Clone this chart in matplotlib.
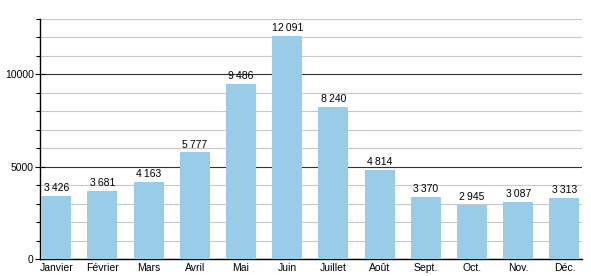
import matplotlib
matplotlib.use("Agg")
import matplotlib.pyplot as plt
from matplotlib.ticker import MultipleLocator

months = ["Janvier", "Février", "Mars", "Avril", "Mai", "Juin",
          "Juillet", "Août", "Sept.", "Oct.", "Nov.", "Déc."]
values = [3426, 3681, 4163, 5777, 9486, 12091, 8240, 4814, 3370, 2945, 3087, 3313]

plt.rcParams['font.family'] = ['Liberation Sans', 'DejaVu Sans']

fig = plt.figure(figsize=(5.91, 2.76), dpi=100)
ax = fig.add_axes([40 / 591, 17 / 276, 542 / 591, 240 / 276])

x = list(range(len(months)))
bars = ax.bar(x, values, width=0.65, color="#99cce6", zorder=3)

for xi, v in zip(x, values):
    label = f"{v:,}".replace(",", "\u2009")
    ax.annotate(label, (xi, v), xytext=(0, 2), textcoords="offset points",
                ha="center", va="bottom", fontsize=7.5, zorder=4)

ax.set_xlim(-0.35, 11.38)
ax.set_ylim(0, 13000)
ax.yaxis.set_major_locator(MultipleLocator(5000))
ax.yaxis.set_minor_locator(MultipleLocator(1000))
ax.grid(axis="y", which="minor", color="#c8c8c8", linewidth=0.8, zorder=1)
ax.grid(axis="y", which="major", color="#333333", linewidth=0.8, zorder=2)

ax.set_xticks(x)
ax.set_xticklabels(months, fontsize=7.5)
ax.tick_params(axis="x", length=0, pad=3)
ax.tick_params(axis="y", which="major", direction="inout", length=7, width=0.8,
               labelsize=7.5, pad=1)
ax.tick_params(axis="y", which="minor", length=3, width=0.8)

for s in ["top", "right"]:
    ax.spines[s].set_visible(False)
ax.spines["left"].set_linewidth(1)
ax.spines["bottom"].set_linewidth(1)

fig.savefig("out.png", dpi=100)
